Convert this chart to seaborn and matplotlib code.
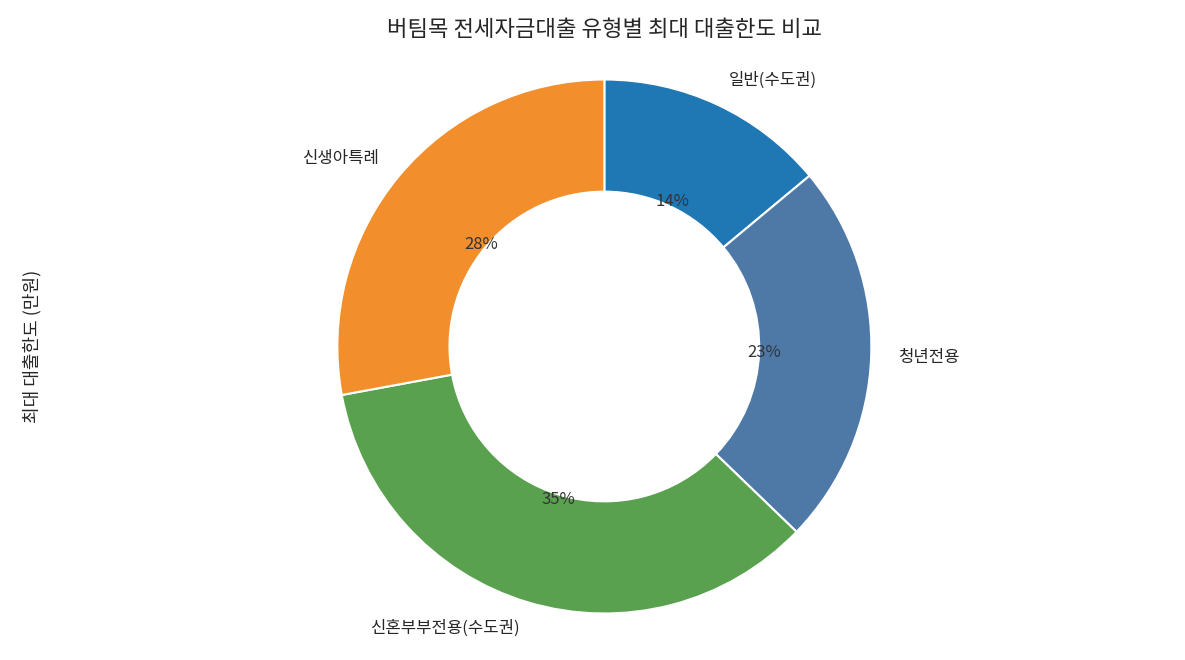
import matplotlib
matplotlib.use('Agg')
import matplotlib.pyplot as plt
import seaborn as sns

categories = ['일반(수도권)', '청년전용', '신혼부부전용(수도권)', '신생아특례']
limits = [12000, 20000, 30000, 24000]  # 만원
colors = ['#1f77b4', '#4e79a7', '#59a14f', '#f28e2b']

sns.set_theme(style='white')
plt.rcParams['font.family'] = ['Noto Sans CJK KR', 'DejaVu Sans']

fig, ax = plt.subplots(figsize=(11.85, 6.6), dpi=100)
ax.pie(limits, labels=categories, colors=colors, autopct='%1.0f%%',
       startangle=90, counterclock=False, pctdistance=0.6, labeldistance=1.1,
       wedgeprops=dict(width=0.42, edgecolor='white', linewidth=1.5),
       textprops=dict(fontsize=12))
for t in ax.texts:
    if t.get_text().endswith('%'):
        t.set_color('#333333')
ax.axis('equal')
ax.set_ylabel('최대 대출한도 (만원)', fontsize=13)
ax.set_title('버팀목 전세자금대출 유형별 최대 대출한도 비교', fontsize=16, pad=12)
fig.subplots_adjust(left=0.04, right=0.98, top=0.92, bottom=0.03)
fig.savefig('out.png')
